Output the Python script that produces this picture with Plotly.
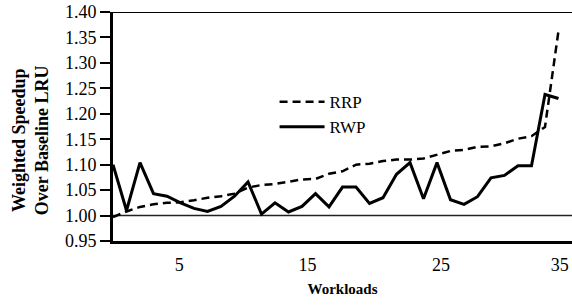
import plotly.graph_objects as go

workload_index = list(range(34))
rrp = [0.997, 1.008, 1.017, 1.022, 1.025, 1.026, 1.030, 1.035, 1.038, 1.043,
       1.055, 1.060, 1.062, 1.066, 1.071, 1.072, 1.082, 1.087, 1.100, 1.102,
       1.107, 1.110, 1.110, 1.112, 1.120, 1.127, 1.129, 1.135, 1.136, 1.142,
       1.151, 1.156, 1.174, 1.363]
rwp = [1.100, 1.010, 1.104, 1.043, 1.038, 1.025, 1.014, 1.008, 1.018, 1.038,
       1.066, 1.003, 1.025, 1.007, 1.018, 1.043, 1.017, 1.056, 1.056, 1.024,
       1.035, 1.081, 1.104, 1.033, 1.104, 1.031, 1.022, 1.037, 1.074, 1.079,
       1.098, 1.098, 1.238, 1.230]
x_tick_pos = [4.9, 14.4, 24.3, 33.1]
x_tick_text = ["5", "15", "25", "35"]
y_ticks = [0.95, 1.00, 1.05, 1.10, 1.15, 1.20, 1.25, 1.30, 1.35, 1.40]

SERIF = "Liberation Serif, Times New Roman, serif"

fig = go.Figure()
fig.add_trace(go.Scatter(x=workload_index, y=rrp, name="RRP", mode="lines",
                         line=dict(color="black", width=2.5, dash="8px,5px")))
fig.add_trace(go.Scatter(x=workload_index, y=rwp, name="RWP", mode="lines",
                         line=dict(color="black", width=3)))

fig.add_shape(type="line", xref="paper", yref="y", x0=0, x1=1, y0=1.0, y1=1.0,
              line=dict(color="#222", width=1.5), layer="below")
fig.add_shape(type="line", xref="paper", yref="y", x0=0, x1=1, y0=1.40, y1=1.40,
              line=dict(color="black", width=2), layer="below")

fig.add_annotation(text="<b>Weighted Speedup<br>Over Baseline LRU</b>",
                   xref="paper", yref="paper", x=-0.181, y=0.44,
                   xanchor="center", yanchor="middle", textangle=-90,
                   showarrow=False, font=dict(size=18, family=SERIF, color="black"))

fig.update_layout(
    width=572, height=305,
    margin=dict(l=113, r=0, t=12, b=64),
    plot_bgcolor="white", paper_bgcolor="white",
    font=dict(family=SERIF, size=18, color="black"),
    showlegend=True,
    legend=dict(x=0.352, y=0.685, xanchor="left", yanchor="top",
                bgcolor="rgba(0,0,0,0)", font=dict(size=17, family=SERIF),
                tracegroupgap=0, itemwidth=45),
    xaxis=dict(range=[0, 34], tickvals=x_tick_pos, ticktext=x_tick_text,
               showgrid=False, zeroline=False, showline=True, linewidth=3,
               linecolor="black", ticks="", ticklabelstandoff=5, automargin=False,
               title=dict(text="<b>Workloads</b>", font=dict(size=15, family=SERIF),
                          standoff=10)),
    yaxis=dict(range=[0.95, 1.40], tickvals=y_ticks, automargin=False,
               tickformat=".2f", showgrid=False, zeroline=False, showline=True,
               linewidth=3, linecolor="black", ticks="outside", ticklen=10,
               tickwidth=2, tickcolor="black"),
)

fig.write_html("out.html", config={"displayModeBar": False},
               post_script="document.body.style.margin='0';document.body.style.overflow='hidden';")
